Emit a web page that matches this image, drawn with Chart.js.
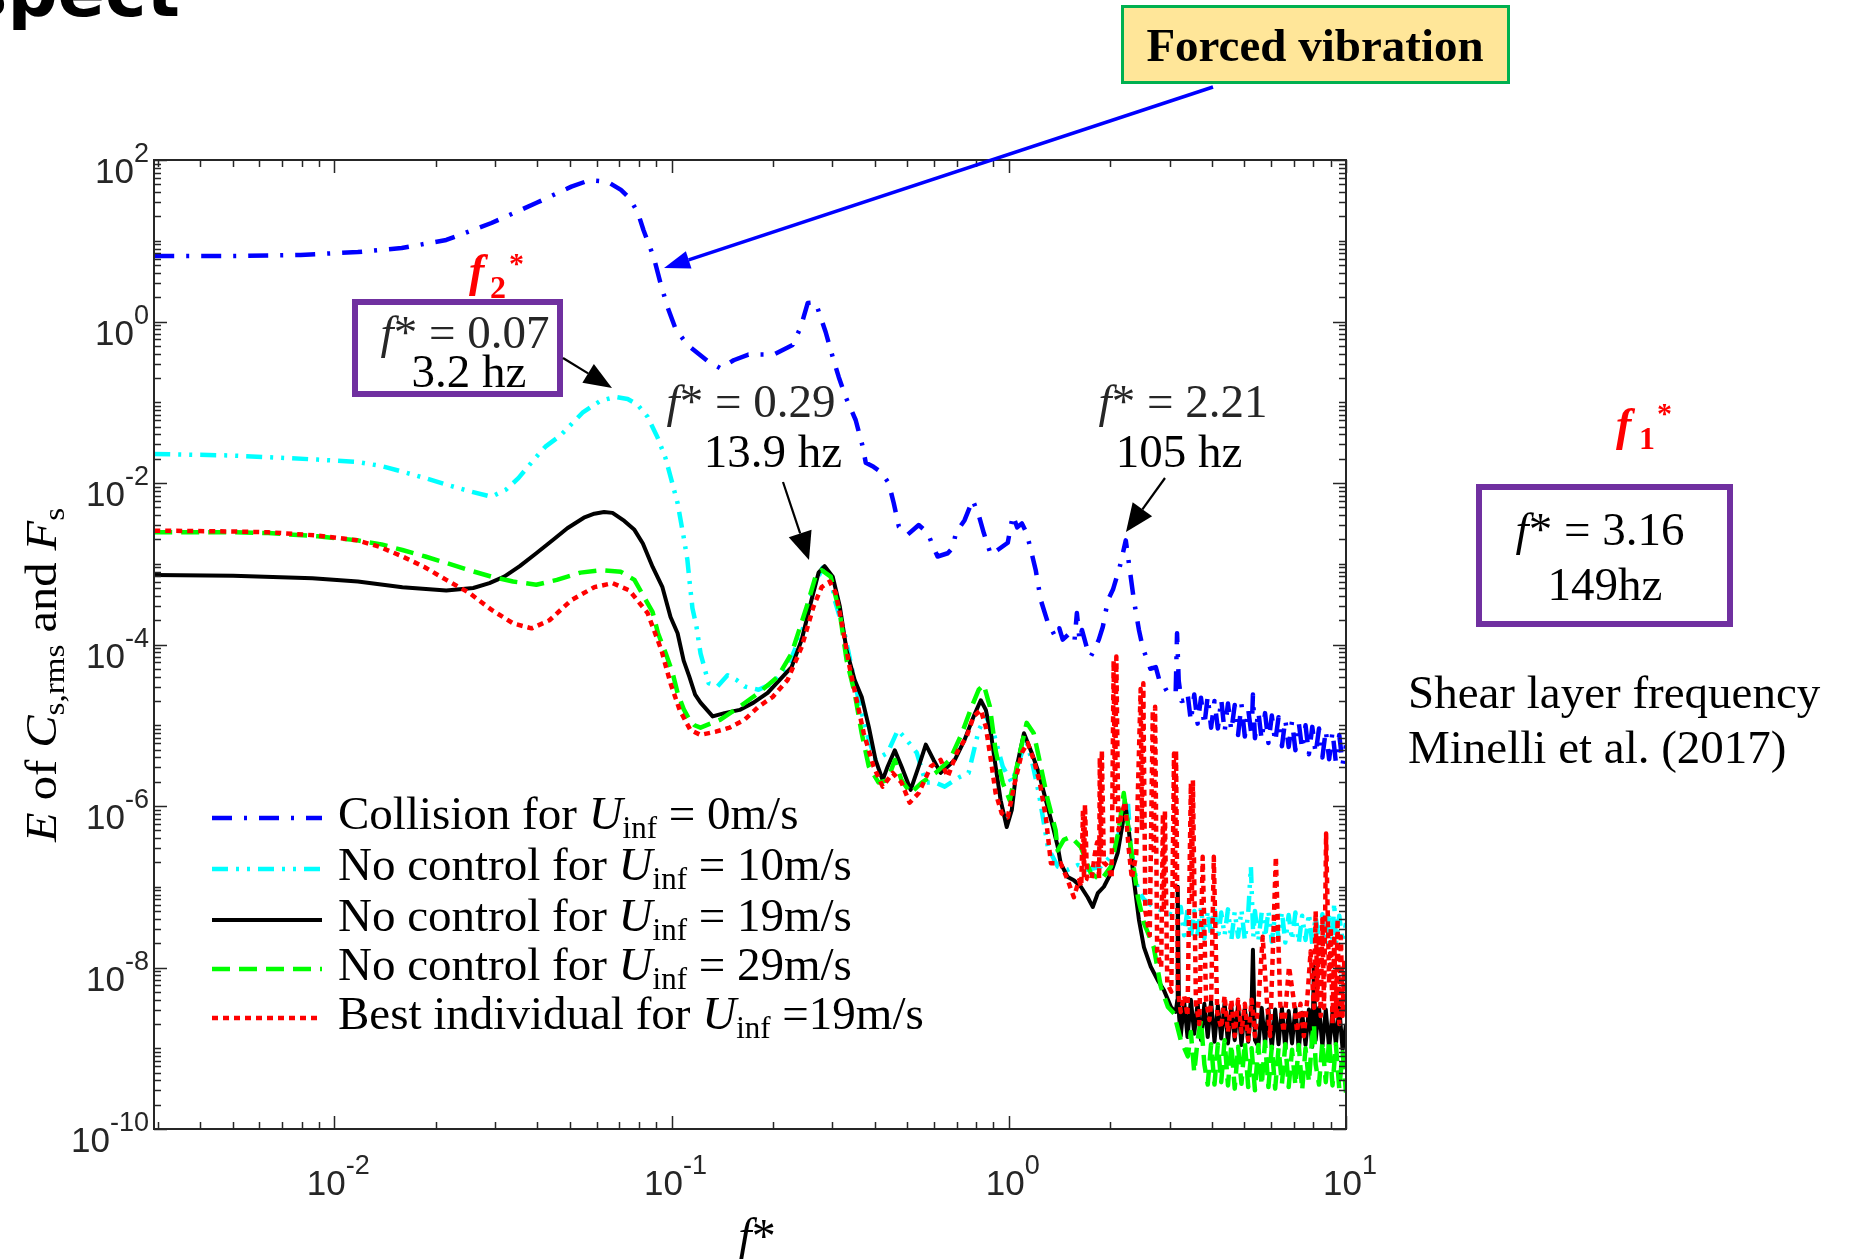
<!DOCTYPE html>
<html><head><meta charset="utf-8">
<script src="https://cdn.jsdelivr.net/npm/chart.js@4.4.1/dist/chart.umd.min.js"></script>
<style>html,body{margin:0;padding:0;background:#fff;overflow:hidden}#wrap{position:relative;width:1852px;height:1259px}</style>
</head><body><div id="wrap"><canvas id="c" width="1852" height="1259"></canvas></div>
<script>
// ---- axis ranges and tick labels (values are powers of ten) ----
const X_MIN = 0.00292, X_MAX = 10, Y_MIN = 1e-10, Y_MAX = 100;
const xTickExps = [-2, -1, 0, 1];
const yTickExps = [2, 0, -2, -4, -6, -8, -10];

// ---- series as [log10 f*, log10 E] ----
const blueLow = [[-2.534,0.81],[-2.3,0.812],[-2.1,0.825],[-1.93,0.86],[-1.8,0.91],[-1.668,1.01],[-1.534,1.22],[-1.4,1.47],[-1.297,1.67],[-1.243,1.75],[-1.19,1.73],[-1.15,1.63],[-1.125,1.53],[-1.1,1.35],[-1.083,1.13],[-1.065,0.93],[-1.053,0.8],[-1.033,0.48],[-1.012,0.18],[-0.988,-0.09],[-0.953,-0.29],[-0.893,-0.49],[-0.855,-0.58],[-0.816,-0.48],[-0.772,-0.41],[-0.697,-0.41],[-0.641,-0.29],[-0.617,-0.07],[-0.596,0.23],[-0.573,0.24],[-0.543,-0.13],[-0.522,-0.44],[-0.504,-0.69],[-0.484,-0.93],[-0.454,-1.22],[-0.433,-1.55],[-0.424,-1.75],[-0.401,-1.8],[-0.38,-1.86],[-0.356,-2.0],[-0.341,-2.25],[-0.326,-2.54],[-0.3,-2.64],[-0.267,-2.52],[-0.24,-2.62],[-0.225,-2.78],[-0.211,-2.91],[-0.181,-2.87],[-0.166,-2.8],[-0.157,-2.62],[-0.131,-2.46],[-0.107,-2.21],[-0.089,-2.4],[-0.074,-2.62],[-0.053,-2.89],[-0.033,-2.83],[-0.003,-2.74],[0.012,-2.4],[0.025,-2.55],[0.039,-2.5],[0.053,-2.62],[0.068,-2.87],[0.08,-3.08],[0.095,-3.45],[0.116,-3.73],[0.139,-3.91],[0.15,-3.8],[0.16,-3.94],[0.181,-3.86],[0.195,-3.95],[0.202,-3.61],[0.21,-3.95],[0.217,-3.82],[0.231,-4.03],[0.243,-4.15],[0.255,-4.05],[0.267,-3.94],[0.279,-3.78],[0.294,-3.45],[0.309,-3.32],[0.329,-3.04],[0.347,-2.71],[0.359,-3.08],[0.371,-3.45],[0.386,-3.82],[0.398,-4.05],[0.407,-4.15],[0.42,-4.3],[0.436,-4.28],[0.447,-4.45],[0.457,-4.47],[0.465,-4.55],[0.472,-4.6],[0.485,-4.62],[0.495,-4.58],[0.499,-3.86],[0.504,-4.45],[0.512,-4.7],[0.522,-4.69]];
const blueHigh = [[0.53,-4.6],[0.54,-4.95],[0.55,-4.62],[0.56,-4.98],[0.57,-4.66],[0.58,-5.0],[0.59,-4.64],[0.6,-5.03],[0.61,-4.7],[0.62,-5.04],[0.63,-4.68],[0.64,-5.08],[0.65,-4.73],[0.66,-5.07],[0.67,-4.75],[0.68,-5.12],[0.69,-4.74],[0.7,-5.14],[0.71,-4.8],[0.72,-5.13],[0.724,-4.62],[0.73,-5.16],[0.74,-4.83],[0.75,-5.18],[0.76,-4.85],[0.77,-5.22],[0.78,-4.88],[0.79,-5.21],[0.8,-4.9],[0.81,-5.26],[0.82,-4.93],[0.83,-5.27],[0.84,-4.95],[0.85,-5.31],[0.86,-4.97],[0.87,-5.3],[0.88,-5.0],[0.89,-5.36],[0.9,-5.02],[0.91,-5.35],[0.92,-5.04],[0.93,-5.4],[0.94,-5.06],[0.95,-5.42],[0.96,-5.08],[0.97,-5.46],[0.98,-5.12],[0.99,-5.48],[1.0,-5.25]];

const cyanLow = [[-2.534,-1.64],[-2.3,-1.66],[-2.196,-1.68],[-2.05,-1.71],[-1.932,-1.74],[-1.86,-1.79],[-1.798,-1.86],[-1.73,-1.94],[-1.668,-2.02],[-1.6,-2.1],[-1.534,-2.17],[-1.49,-2.08],[-1.454,-1.94],[-1.41,-1.72],[-1.374,-1.55],[-1.329,-1.41],[-1.264,-1.13],[-1.21,-0.98],[-1.166,-0.935],[-1.13,-0.96],[-1.101,-1.03],[-1.071,-1.18],[-1.042,-1.43],[-1.018,-1.69],[-1.003,-1.92],[-0.982,-2.25],[-0.973,-2.46],[-0.964,-2.67],[-0.953,-2.95],[-0.947,-3.2],[-0.938,-3.55],[-0.926,-3.78],[-0.914,-4.11],[-0.89,-4.48],[-0.864,-4.52],[-0.834,-4.38],[-0.807,-4.44],[-0.783,-4.52],[-0.742,-4.56],[-0.7,-4.48],[-0.656,-4.28],[-0.614,-3.86],[-0.579,-3.29],[-0.552,-3.05],[-0.53,-3.12],[-0.516,-3.45],[-0.487,-3.86],[-0.466,-4.28],[-0.445,-4.69],[-0.421,-5.1],[-0.395,-5.43],[-0.359,-5.34],[-0.329,-5.06],[-0.303,-5.18],[-0.273,-5.34],[-0.246,-5.71],[-0.217,-5.71],[-0.19,-5.76],[-0.145,-5.64],[-0.119,-5.59],[-0.089,-5.06],[-0.068,-4.89],[-0.047,-5.06],[-0.018,-5.51],[0.009,-5.71],[0.039,-5.34],[0.053,-5.22],[0.068,-5.43],[0.089,-5.84],[0.104,-6.21],[0.116,-6.51],[0.145,-6.75],[0.175,-6.79],[0.205,-6.73],[0.234,-6.79],[0.273,-6.75],[0.312,-6.58],[0.338,-6.14],[0.353,-5.93],[0.362,-6.51],[0.383,-7.04],[0.401,-7.16],[0.43,-7.25],[0.472,-7.33],[0.501,-7.37]];
const cyanHigh = [[0.51,-7.25],[0.52,-7.6],[0.53,-7.28],[0.54,-7.62],[0.55,-7.3],[0.56,-7.58],[0.57,-7.26],[0.58,-7.64],[0.59,-7.3],[0.6,-7.6],[0.61,-7.27],[0.62,-7.65],[0.63,-7.32],[0.64,-7.6],[0.65,-7.28],[0.66,-7.66],[0.67,-7.31],[0.68,-7.62],[0.69,-7.29],[0.7,-7.66],[0.71,-7.33],[0.718,-6.75],[0.725,-7.62],[0.73,-7.3],[0.74,-7.67],[0.75,-7.32],[0.76,-7.63],[0.77,-7.3],[0.78,-7.68],[0.79,-7.34],[0.8,-7.64],[0.81,-7.31],[0.82,-7.69],[0.83,-7.35],[0.84,-7.66],[0.85,-7.32],[0.86,-7.7],[0.87,-7.36],[0.88,-7.66],[0.89,-7.33],[0.9,-7.71],[0.91,-7.37],[0.92,-7.67],[0.93,-7.34],[0.94,-7.72],[0.95,-7.38],[0.96,-7.66],[0.965,-7.2],[0.97,-7.7],[0.98,-7.36],[0.99,-7.68],[1.0,-7.45]];

const blackLow = [[-2.534,-3.14],[-2.3,-3.15],[-2.065,-3.18],[-1.93,-3.22],[-1.798,-3.29],[-1.668,-3.33],[-1.588,-3.3],[-1.54,-3.24],[-1.496,-3.16],[-1.45,-3.03],[-1.401,-2.87],[-1.35,-2.7],[-1.309,-2.56],[-1.26,-2.43],[-1.229,-2.38],[-1.2,-2.36],[-1.175,-2.37],[-1.14,-2.47],[-1.11,-2.58],[-1.085,-2.75],[-1.056,-3.04],[-1.027,-3.29],[-1.003,-3.66],[-0.982,-3.86],[-0.964,-4.2],[-0.947,-4.4],[-0.93,-4.62],[-0.914,-4.72],[-0.878,-4.89],[-0.843,-4.85],[-0.798,-4.81],[-0.757,-4.72],[-0.715,-4.6],[-0.671,-4.4],[-0.644,-4.28],[-0.614,-3.94],[-0.585,-3.45],[-0.564,-3.11],[-0.546,-3.03],[-0.522,-3.16],[-0.501,-3.53],[-0.481,-4.07],[-0.457,-4.44],[-0.436,-4.65],[-0.415,-5.02],[-0.395,-5.43],[-0.374,-5.68],[-0.359,-5.51],[-0.338,-5.31],[-0.318,-5.51],[-0.291,-5.8],[-0.267,-5.51],[-0.246,-5.24],[-0.223,-5.43],[-0.202,-5.59],[-0.181,-5.51],[-0.16,-5.43],[-0.131,-5.18],[-0.104,-4.89],[-0.083,-4.69],[-0.068,-4.81],[-0.053,-5.1],[-0.039,-5.51],[-0.024,-5.93],[-0.006,-6.26],[0.009,-6.05],[0.024,-5.51],[0.045,-5.1],[0.068,-5.34],[0.089,-5.59],[0.11,-5.93],[0.131,-6.26],[0.145,-6.5],[0.154,-6.71],[0.175,-6.88],[0.193,-6.92],[0.214,-7.0],[0.234,-7.13],[0.249,-7.25],[0.264,-7.08],[0.282,-7.0],[0.303,-6.83],[0.323,-6.58],[0.338,-6.21],[0.344,-5.93],[0.356,-6.3],[0.371,-6.92],[0.386,-7.41],[0.401,-7.75],[0.421,-7.99],[0.442,-8.16],[0.46,-8.28],[0.481,-8.49],[0.495,-8.55]];
const blackHigh = [[0.5,-8.4],[0.501,-7.0],[0.505,-8.6],[0.51,-8.85],[0.52,-8.42],[0.53,-8.86],[0.54,-8.4],[0.55,-8.82],[0.56,-8.44],[0.57,-8.9],[0.58,-8.45],[0.59,-8.86],[0.6,-8.42],[0.61,-8.92],[0.62,-8.47],[0.63,-8.88],[0.64,-8.44],[0.65,-8.94],[0.66,-8.48],[0.67,-8.9],[0.68,-8.46],[0.69,-8.96],[0.7,-8.5],[0.71,-8.92],[0.72,-8.48],[0.724,-7.78],[0.73,-8.9],[0.74,-8.98],[0.75,-8.5],[0.76,-8.94],[0.77,-8.52],[0.78,-9.0],[0.79,-8.52],[0.8,-8.95],[0.81,-8.5],[0.82,-9.0],[0.83,-8.54],[0.84,-8.94],[0.85,-8.5],[0.86,-9.02],[0.87,-8.56],[0.88,-8.96],[0.89,-8.52],[0.9,-8.98],[0.905,-7.99],[0.91,-8.9],[0.92,-8.5],[0.93,-8.98],[0.94,-8.52],[0.95,-9.0],[0.96,-8.55],[0.97,-8.95],[0.98,-8.5],[0.99,-9.02],[1.0,-8.7]];

const greenLow = [[-2.534,-2.61],[-2.3,-2.61],[-2.196,-2.62],[-2.05,-2.66],[-1.932,-2.71],[-1.86,-2.76],[-1.798,-2.83],[-1.73,-2.91],[-1.668,-2.99],[-1.6,-3.08],[-1.534,-3.16],[-1.47,-3.22],[-1.401,-3.26],[-1.34,-3.2],[-1.27,-3.11],[-1.21,-3.08],[-1.15,-3.1],[-1.11,-3.2],[-1.083,-3.4],[-1.056,-3.6],[-1.04,-3.86],[-1.018,-4.1],[-0.997,-4.35],[-0.982,-4.6],[-0.964,-4.8],[-0.947,-4.93],[-0.932,-5.0],[-0.914,-5.03],[-0.855,-4.93],[-0.798,-4.77],[-0.742,-4.6],[-0.685,-4.4],[-0.644,-4.11],[-0.599,-3.53],[-0.573,-3.16],[-0.555,-3.08],[-0.528,-3.16],[-0.501,-3.61],[-0.481,-4.19],[-0.457,-4.6],[-0.436,-5.1],[-0.415,-5.51],[-0.386,-5.71],[-0.359,-5.68],[-0.338,-5.43],[-0.318,-5.68],[-0.291,-5.84],[-0.258,-5.71],[-0.217,-5.59],[-0.175,-5.43],[-0.139,-5.1],[-0.11,-4.77],[-0.089,-4.56],[-0.074,-4.5],[-0.056,-4.77],[-0.039,-5.31],[-0.018,-5.71],[0.003,-5.93],[0.024,-5.51],[0.053,-4.97],[0.074,-5.1],[0.095,-5.51],[0.116,-5.93],[0.139,-6.3],[0.145,-6.55],[0.163,-6.42],[0.184,-6.38],[0.214,-6.51],[0.243,-6.83],[0.273,-6.92],[0.303,-6.75],[0.326,-6.3],[0.341,-5.84],[0.362,-6.51],[0.383,-7.13],[0.401,-7.45],[0.43,-7.75],[0.451,-8.24],[0.472,-8.49],[0.49,-8.57],[0.51,-8.9],[0.531,-9.1]];
const greenHigh = [[0.54,-8.8],[0.55,-9.3],[0.56,-8.9],[0.57,-8.65],[0.58,-9.2],[0.59,-9.45],[0.6,-8.95],[0.61,-9.45],[0.62,-8.95],[0.63,-9.42],[0.64,-8.9],[0.65,-9.46],[0.66,-8.95],[0.67,-9.5],[0.68,-8.98],[0.69,-9.44],[0.7,-8.92],[0.71,-9.48],[0.72,-9.0],[0.73,-9.52],[0.74,-8.96],[0.75,-9.46],[0.76,-8.92],[0.77,-9.48],[0.78,-8.98],[0.79,-9.5],[0.8,-9.0],[0.81,-9.44],[0.82,-8.95],[0.83,-9.48],[0.84,-9.02],[0.85,-9.46],[0.86,-8.96],[0.87,-9.52],[0.88,-9.0],[0.89,-9.42],[0.9,-8.85],[0.905,-8.7],[0.91,-9.2],[0.92,-9.45],[0.93,-8.92],[0.94,-9.42],[0.95,-8.9],[0.96,-9.46],[0.97,-8.95],[0.98,-9.5],[0.99,-9.05],[1.0,-9.55]];

const redLow = [[-2.534,-2.59],[-2.3,-2.6],[-2.196,-2.61],[-2.05,-2.65],[-1.932,-2.71],[-1.866,-2.79],[-1.798,-2.91],[-1.733,-3.04],[-1.668,-3.2],[-1.6,-3.36],[-1.534,-3.57],[-1.469,-3.74],[-1.415,-3.8],[-1.362,-3.7],[-1.297,-3.45],[-1.229,-3.29],[-1.175,-3.24],[-1.125,-3.33],[-1.071,-3.61],[-1.03,-4.07],[-1.003,-4.48],[-0.976,-4.81],[-0.944,-5.06],[-0.914,-5.12],[-0.869,-5.08],[-0.828,-5.03],[-0.783,-4.93],[-0.742,-4.77],[-0.7,-4.65],[-0.656,-4.44],[-0.614,-4.03],[-0.579,-3.53],[-0.555,-3.29],[-0.531,-3.22],[-0.513,-3.36],[-0.493,-3.78],[-0.472,-4.28],[-0.451,-4.69],[-0.43,-5.1],[-0.401,-5.51],[-0.374,-5.76],[-0.344,-5.59],[-0.318,-5.71],[-0.294,-5.96],[-0.267,-5.84],[-0.231,-5.51],[-0.202,-5.43],[-0.181,-5.64],[-0.154,-5.34],[-0.125,-5.14],[-0.104,-4.89],[-0.083,-4.81],[-0.068,-5.02],[-0.053,-5.43],[-0.039,-5.84],[-0.021,-6.09],[-0.003,-6.14],[0.018,-5.71],[0.039,-5.34],[0.056,-5.22],[0.074,-5.43],[0.092,-5.71],[0.11,-6.14],[0.125,-6.71],[0.154,-6.71],[0.175,-6.92],[0.193,-7.13],[0.208,-6.92]];
const redHigh = [[0.215,-7.0],[0.22,-6.05],[0.223,-6.9],[0.226,-5.98],[0.232,-6.9],[0.245,-6.92],[0.255,-6.6],[0.262,-6.45],[0.268,-6.9],[0.27,-5.4],[0.273,-6.6],[0.276,-5.31],[0.282,-6.7],[0.295,-6.75],[0.305,-6.9],[0.311,-4.2],[0.315,-6.0],[0.319,-4.15],[0.325,-6.3],[0.335,-6.1],[0.345,-5.95],[0.355,-6.5],[0.365,-6.9],[0.378,-6.6],[0.391,-4.55],[0.395,-6.3],[0.399,-4.48],[0.405,-7.3],[0.418,-7.6],[0.427,-4.82],[0.43,-6.6],[0.434,-4.77],[0.44,-7.8],[0.452,-8.0],[0.457,-6.1],[0.46,-7.3],[0.463,-6.05],[0.47,-8.2],[0.482,-8.3],[0.49,-5.35],[0.493,-7.0],[0.496,-5.31],[0.502,-8.3],[0.51,-8.55],[0.52,-8.35],[0.53,-8.6],[0.54,-5.72],[0.543,-7.2],[0.546,-5.68],[0.555,-8.45],[0.565,-8.7],[0.575,-6.63],[0.585,-8.4],[0.595,-8.65],[0.6,-8.45],[0.608,-6.63],[0.618,-8.55],[0.63,-8.75],[0.64,-8.35],[0.65,-8.8],[0.66,-8.4],[0.67,-8.85],[0.68,-8.4],[0.69,-8.8],[0.7,-8.45],[0.71,-8.9],[0.72,-8.4],[0.73,-8.85],[0.74,-8.45],[0.753,-7.62],[0.765,-8.4],[0.775,-8.85],[0.792,-6.63],[0.805,-8.45],[0.815,-8.8],[0.831,-7.99],[0.845,-8.4],[0.855,-8.8],[0.865,-8.45],[0.875,-8.85],[0.885,-8.4],[0.895,-7.8],[0.905,-8.5],[0.91,-7.3],[0.915,-8.4],[0.92,-7.6],[0.925,-8.6],[0.93,-7.4],[0.935,-8.5],[0.941,-6.34],[0.95,-8.2],[0.955,-7.5],[0.96,-8.7],[0.965,-7.6],[0.97,-8.6],[0.975,-7.4],[0.98,-8.7],[0.985,-7.62],[0.99,-8.6],[0.995,-7.9],[1.0,-8.55]];

// ---- legend texts ----
const legendNames = ['Collision for', 'No control for', 'No control for', 'No control for', 'Best individual for'];
const legendSpeeds = [' = 0m/s', ' = 10m/s', ' = 19m/s', ' = 29m/s', ' =19m/s'];

// ---- styles ----
const seriesStyle = [
  {color: '#0000ff', dash: [20, 12, 3, 12], width: 4.5},
  {color: '#00ffff', dash: [16, 8, 3, 8, 3, 8], width: 4.5},
  {color: '#000000', dash: [], width: 4},
  {color: '#00ff00', dash: [18, 9], width: 4.5},
  {color: '#ff0000', dash: [6, 5], width: 4.5}
];
const seriesData = [blueLow.concat(blueHigh), cyanLow.concat(cyanHigh), blackLow.concat(blackHigh), greenLow.concat(greenHigh), redLow.concat(redHigh)];

const datasets = seriesData.map((arr, i) => ({
  label: legendNames[i] + ' U_inf' + legendSpeeds[i],
  data: arr.map(p => ({x: Math.pow(10, p[0]), y: Math.pow(10, p[1])})),
  borderColor: seriesStyle[i].color,
  borderDash: seriesStyle[i].dash,
  borderWidth: seriesStyle[i].width,
  borderCapStyle: 'butt',
  borderJoinStyle: 'round',
  pointRadius: 0,
  tension: 0,
  fill: false,
  order: 5 - i
}));

const SERIF = '"Liberation Serif", "Times New Roman", serif';
const SANS = '"Liberation Sans", Arial, Helvetica, sans-serif';
const AXC = '#262626';

function rich(c, parts, x, y, align) {
  let w = 0;
  parts.forEach(p => { c.font = p[1]; w += c.measureText(p[0]).width; });
  let cx = align === 'center' ? x - w / 2 : (align === 'right' ? x - w : x);
  parts.forEach(p => { c.font = p[1]; c.fillText(p[0], cx, y + (p[2] || 0)); cx += c.measureText(p[0]).width; });
  return w;
}
function arrow(c, x1, y1, x2, y2, color, lw, hl, hw) {
  const ang = Math.atan2(y2 - y1, x2 - x1);
  const bx = x2 - hl * Math.cos(ang), by = y2 - hl * Math.sin(ang);
  c.save();
  c.strokeStyle = color; c.fillStyle = color; c.lineWidth = lw; c.setLineDash([]);
  c.beginPath(); c.moveTo(x1, y1); c.lineTo(bx, by); c.stroke();
  c.beginPath(); c.moveTo(x2, y2);
  c.lineTo(bx + hw * Math.sin(ang), by - hw * Math.cos(ang));
  c.lineTo(bx - hw * Math.sin(ang), by + hw * Math.cos(ang));
  c.closePath(); c.fill();
  c.restore();
}

const bgPlugin = {
  id: 'bg',
  beforeDraw(chart) { const c = chart.ctx; c.save(); c.fillStyle = '#fff'; c.fillRect(0, 0, chart.width, chart.height); c.restore(); }
};

const decor = {
  id: 'decor',
  afterDraw(chart) {
    const c = chart.ctx, xs = chart.scales.x, ys = chart.scales.y, a = chart.chartArea;
    c.save();
    c.setLineDash([]);
    c.textBaseline = 'alphabetic'; c.textAlign = 'left';
    // ticks
    c.strokeStyle = AXC; c.lineWidth = 1.5;
    c.beginPath();
    for (let n = -3; n <= 1; n++) for (let k = 1; k <= 9; k++) {
      const v = k * Math.pow(10, n);
      if (v < X_MIN * 0.999 || v > X_MAX * 1.001) continue;
      const px = Math.round(xs.getPixelForValue(v)) + 0.5;
      const len = k === 1 ? 13 : 7;
      c.moveTo(px, a.bottom); c.lineTo(px, a.bottom - len);
      c.moveTo(px, a.top); c.lineTo(px, a.top + len);
    }
    for (let n = -10; n <= 2; n++) for (let k = 1; k <= 9; k++) {
      const v = k * Math.pow(10, n);
      if (v < Y_MIN * 0.999 || v > Y_MAX * 1.001) continue;
      const py = Math.round(ys.getPixelForValue(v)) + 0.5;
      const len = (k === 1 && n % 2 === 0) ? 13 : 7;
      c.moveTo(a.left, py); c.lineTo(a.left + len, py);
      c.moveTo(a.right, py); c.lineTo(a.right - len, py);
    }
    c.stroke();
    c.lineWidth = 2;
    c.strokeRect(a.left, a.top, a.right - a.left, a.bottom - a.top);

    // tick labels
    c.fillStyle = AXC;
    yTickExps.forEach(e => {
      const py = ys.getPixelForValue(Math.pow(10, e));
      c.font = '27px ' + SANS; const ew = c.measureText(String(e)).width;
      c.fillText(String(e), 149 - ew, py + 2);
      c.font = '35px ' + SANS; const bw = c.measureText('10').width;
      c.fillText('10', 149 - ew - bw, py + 23);
    });
    xTickExps.forEach(e => {
      const px = xs.getPixelForValue(Math.pow(10, e)) + 4;
      c.font = '27px ' + SANS; const ew = c.measureText(String(e)).width;
      c.font = '35px ' + SANS; const bw = c.measureText('10').width;
      const x0 = px - (ew + bw) / 2;
      c.fillText('10', x0, 1195);
      c.font = '27px ' + SANS; c.fillText(String(e), x0 + bw, 1174);
    });

    // axis titles
    c.fillStyle = '#000';
    rich(c, [['f', 'italic 48px ' + SERIF], ['*', '48px ' + SERIF]], 757, 1252, 'center');
    c.save();
    c.translate(56, 675); c.rotate(-Math.PI / 2);
    const tparts = [['E', 'italic 44px ' + SERIF], [' of ', '44px ' + SERIF], ['C', 'italic 44px ' + SERIF], ['s,rms', '30px ' + SERIF, 8], [' and ', '44px ' + SERIF], ['F', 'italic 44px ' + SERIF], ['s', '30px ' + SERIF, 8]];
    let tw = 0; tparts.forEach(p => { c.font = p[1]; tw += c.measureText(p[0]).width; });
    c.scale(334 / tw, 1);
    rich(c, tparts, 0, 0, 'center');
    c.restore();

    // legend
    const rowsY = [818, 869, 920, 969, 1018];
    rowsY.forEach((ry, i) => {
      c.save();
      c.strokeStyle = seriesStyle[i].color; c.lineWidth = seriesStyle[i].width; c.lineCap = 'butt';
      c.setLineDash(seriesStyle[i].dash);
      c.beginPath(); c.moveTo(212, ry); c.lineTo(322, ry); c.stroke();
      c.restore();
      c.fillStyle = '#000';
      rich(c, [[legendNames[i] + ' ', '47px ' + SERIF], ['U', 'italic 47px ' + SERIF], ['inf', '31px ' + SERIF, 9], [legendSpeeds[i], '47px ' + SERIF]], 338, ry + 11, 'left');
    });

    // ---- annotations ----
    c.fillStyle = '#000'; c.font = 'bold 70px "DejaVu Sans", sans-serif'; c.textAlign = 'right';
    c.fillText('spect', 180, 16);
    c.textAlign = 'left';

    // Forced vibration box
    c.fillStyle = '#ffe699'; c.fillRect(1122, 6, 387, 77);
    c.strokeStyle = '#00b050'; c.lineWidth = 3; c.strokeRect(1122.5, 6.5, 386, 76);
    c.fillStyle = '#000';
    rich(c, [['Forced vibration', 'bold 47px ' + SERIF]], 1315, 61, 'center');
    arrow(c, 1213, 87, 664, 268, '#0000ff', 3.5, 26, 9);

    // f2* box
    c.fillStyle = '#fff'; c.fillRect(355, 302, 205, 92);
    c.strokeStyle = '#7030a0'; c.lineWidth = 6; c.strokeRect(355, 302, 205, 92);
    c.fillStyle = AXC;
    rich(c, [['f', 'italic 47px ' + SERIF], ['* = 0.07', '47px ' + SERIF]], 465, 348, 'center');
    c.fillStyle = '#000';
    rich(c, [['3.2 hz', '47px ' + SERIF]], 469, 387, 'center');
    arrow(c, 563, 358, 612, 388, '#000', 2.2, 28, 11);

    // f2* label
    c.fillStyle = '#ff0000';
    c.font = 'bold italic 46px ' + SERIF; c.fillText('f', 469, 286);
    c.font = 'bold 32px ' + SERIF; c.fillText('2', 490, 298);
    c.font = 'bold 30px ' + SERIF; c.fillText('*', 509, 273);

    // f* = 0.29 annotation
    c.fillStyle = AXC;
    rich(c, [['f', 'italic 47px ' + SERIF], ['* = 0.29', '47px ' + SERIF]], 751, 417, 'center');
    c.fillStyle = '#000';
    rich(c, [['13.9 hz', '47px ' + SERIF]], 773, 467, 'center');
    arrow(c, 783, 482, 809, 560, '#000', 2.2, 28, 12);

    // f* = 2.21 annotation
    c.fillStyle = AXC;
    rich(c, [['f', 'italic 47px ' + SERIF], ['* = 2.21', '47px ' + SERIF]], 1183, 417, 'center');
    c.fillStyle = '#000';
    rich(c, [['105 hz', '47px ' + SERIF]], 1179, 467, 'center');
    arrow(c, 1165, 478, 1126, 532, '#000', 2.2, 28, 12);

    // f1* label and box
    c.fillStyle = '#ff0000';
    c.font = 'bold italic 46px ' + SERIF; c.fillText('f', 1616, 440);
    c.font = 'bold 32px ' + SERIF; c.fillText('1', 1639, 449);
    c.font = 'bold 30px ' + SERIF; c.fillText('*', 1657, 423);
    c.fillStyle = '#fff'; c.fillRect(1479, 487, 251, 137);
    c.strokeStyle = '#7030a0'; c.lineWidth = 6; c.strokeRect(1479, 487, 251, 137);
    c.fillStyle = '#000';
    rich(c, [['f', 'italic 47px ' + SERIF], ['* = 3.16', '47px ' + SERIF]], 1600, 545, 'center');
    rich(c, [['149hz', '47px ' + SERIF]], 1605, 600, 'center');

    rich(c, [['Shear layer frequency', '47px ' + SERIF]], 1408, 708, 'left');
    rich(c, [['Minelli et al. (2017)', '47px ' + SERIF]], 1408, 763, 'left');
    c.restore();
  }
};

new Chart(document.getElementById('c').getContext('2d'), {
  type: 'line',
  data: { datasets },
  options: {
    responsive: false, animation: false, devicePixelRatio: 1, events: [],
    layout: { padding: { left: 154, right: 506, top: 160, bottom: 130 } },
    scales: {
      x: { type: 'logarithmic', min: X_MIN, max: X_MAX, display: false },
      y: { type: 'logarithmic', min: Y_MIN, max: Y_MAX, display: false }
    },
    plugins: { legend: { display: false }, tooltip: { enabled: false } }
  },
  plugins: [bgPlugin, decor]
});
</script></body></html>
